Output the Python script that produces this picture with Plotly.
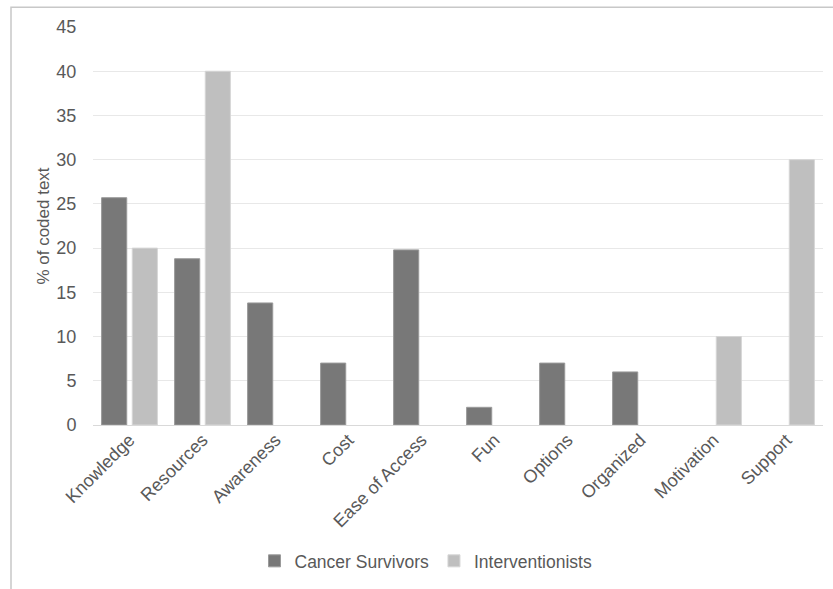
import plotly.graph_objects as go

categories = ["Knowledge", "Resources", "Awareness", "Cost", "Ease of Access",
              "Fun", "Options", "Organized", "Motivation", "Support"]
cancer_survivors = [25.7, 18.8, 13.8, 7.0, 19.8, 2.0, 7.0, 6.0, None, None]
interventionists = [20.0, 40.0, None, None, None, None, None, None, 10.0, 30.0]
y_ticks = [0, 5, 10, 15, 20, 25, 30, 35, 40, 45]

FONT = "Liberation Sans, Arial, sans-serif"
TXT = "#595959"

fig = go.Figure()
fig.add_trace(go.Bar(
    x=categories, y=cancer_survivors, name="Cancer Survivors",
    marker=dict(color="#787878", line=dict(color="#9a9a9a", width=1)),
))
fig.add_trace(go.Bar(
    x=categories, y=interventionists, name="Interventionists",
    marker=dict(color="#bfbfbf", line=dict(color="#d6d6d6", width=1)),
))

L, R, T, B = 93, 10, 27, 161
W, H = 833, 589
pw, ph = W - L - R, H - T - B

fig.update_layout(
    width=W, height=H,
    margin=dict(l=L, r=R, t=T, b=B, pad=0),
    paper_bgcolor="white", plot_bgcolor="white",
    barmode="group", bargap=0.16, bargroupgap=0.18,
    font=dict(family=FONT, color=TXT, size=18),
    showlegend=True,
    legend=dict(orientation="h", x=(426 - L) / pw, xanchor="center",
                y=(H - B - 565) / ph, yanchor="middle",
                font=dict(size=17.5, color=TXT), itemwidth=30,
                traceorder="normal"),
    xaxis=dict(tickangle=-45, tickfont=dict(size=18, color=TXT),
               showgrid=False, showline=False, ticks=""),
    yaxis=dict(range=[0, 45], tickvals=y_ticks, showgrid=True,
               gridcolor="#e8e8e8", gridwidth=1, zeroline=True,
               zerolinecolor="#d9d9d9", zerolinewidth=1,
               ticks="outside", ticklen=12, tickcolor="rgba(0,0,0,0)",
               tickfont=dict(size=18, color=TXT),
               title=dict(text="% of coded text", font=dict(size=17, color=TXT),
                          standoff=2)),
    shapes=[dict(type="rect", xref="paper", yref="paper",
                 x0=(11 - L) / pw, x1=(W + 20 - L) / pw,
                 y0=(H - B - (H + 20)) / ph, y1=(H - B - 7) / ph,
                 line=dict(color="#c8c8c8", width=1.5), layer="below")],
)

fig.write_html("out.html")
